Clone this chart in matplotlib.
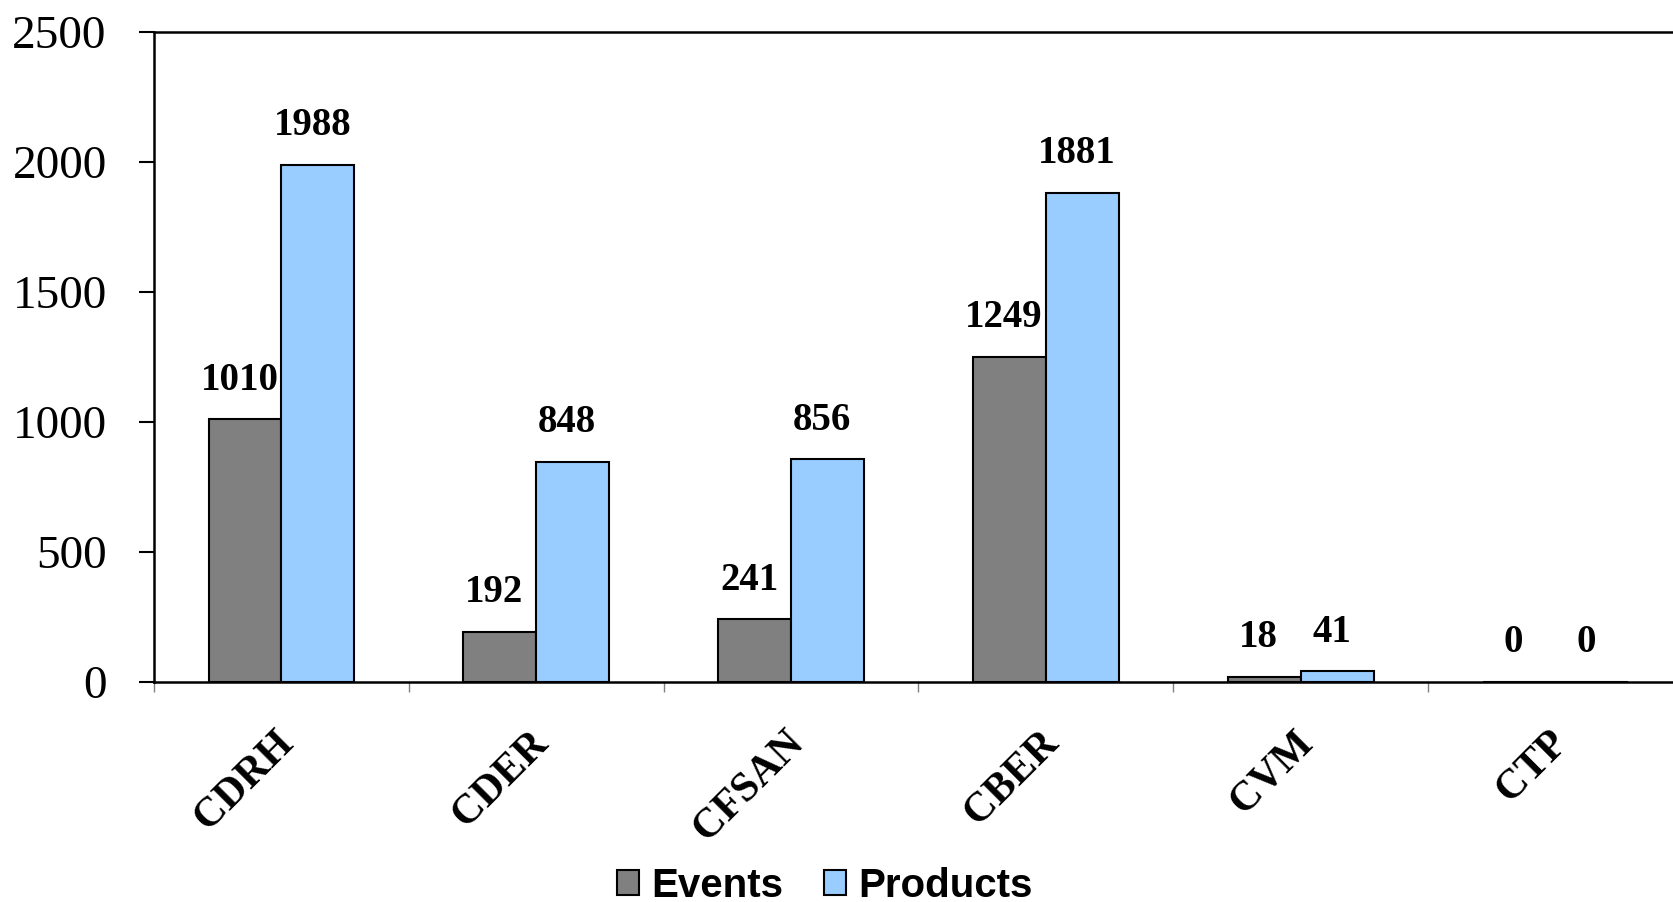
import matplotlib
matplotlib.use('Agg')
import matplotlib.pyplot as plt
import matplotlib.transforms as mtransforms
import numpy as np
from matplotlib.patches import Patch

centers = ['CDRH', 'CDER', 'CFSAN', 'CBER', 'CVM', 'CTP']
events = [1010, 192, 241, 1249, 18, 0]
products = [1988, 848, 856, 1881, 41, 0]

serif = 'Liberation Serif'
sans = 'Liberation Sans'

fig = plt.figure(figsize=(16.73, 9.02), dpi=100)
# plot area runs past the right edge like the original
ax = fig.add_axes([0.092, 0.2439, 0.914, 0.7206])

x = np.arange(len(centers))
w = 0.2857
ax.bar(x - w / 2, events, w, color='#808080', edgecolor='black', linewidth=1.5, label='Events')
ax.bar(x + w / 2, products, w, color='#99CCFF', edgecolor='black', linewidth=1.5, label='Products')

for xs, vals in ((x - w / 2, events), (x + w / 2, products)):
    for xi, v in zip(xs, vals):
        ax.annotate(f"{v}", (xi, v), textcoords="offset points", xytext=(-4, 15),
                    ha='center', va='bottom', fontsize=28, fontweight='bold', family=serif)

ax.set_xlim(-0.5, len(centers) - 0.5)
ax.set_ylim(0, 2500)
ax.set_yticks([0, 500, 1000, 1500, 2000, 2500])
ax.tick_params(axis='y', length=11, width=1.5, pad=23, labelsize=34)
for lab in ax.get_yticklabels():
    lab.set_family(serif)

# category labels at centres, small grey ticks between groups
ax.set_xticks(x)
ax.set_xticklabels(centers, rotation=45, ha='right', va='top',
                   fontsize=30, fontweight='bold', family=serif)
ax.tick_params(axis='x', which='major', length=0, pad=30)
shift = mtransforms.ScaledTranslation(0.2, 0, fig.dpi_scale_trans)
for lab in ax.get_xticklabels():
    lab.set_transform(lab.get_transform() + shift)
ax.set_xticks(np.arange(len(centers) + 1) - 0.5, minor=True)
ax.tick_params(axis='x', which='minor', length=7, width=1, color='#808080')

ax.spines['right'].set_visible(False)
for s in ('left', 'bottom', 'top'):
    ax.spines[s].set_linewidth(1.8)

handles = [Patch(facecolor='#808080', edgecolor='black', linewidth=1.5, label='Events'),
           Patch(facecolor='#99CCFF', edgecolor='black', linewidth=1.5, label='Products')]
fig.legend(handles=handles, loc='center', bbox_to_anchor=(0.493, 0.018), ncol=2,
           frameon=False, handlelength=0.55, handleheight=0.55, handletextpad=0.3,
           columnspacing=1.0, prop={'family': sans, 'weight': 'bold', 'size': 29})

fig.savefig('out.png', dpi=100)
plt.close(fig)
